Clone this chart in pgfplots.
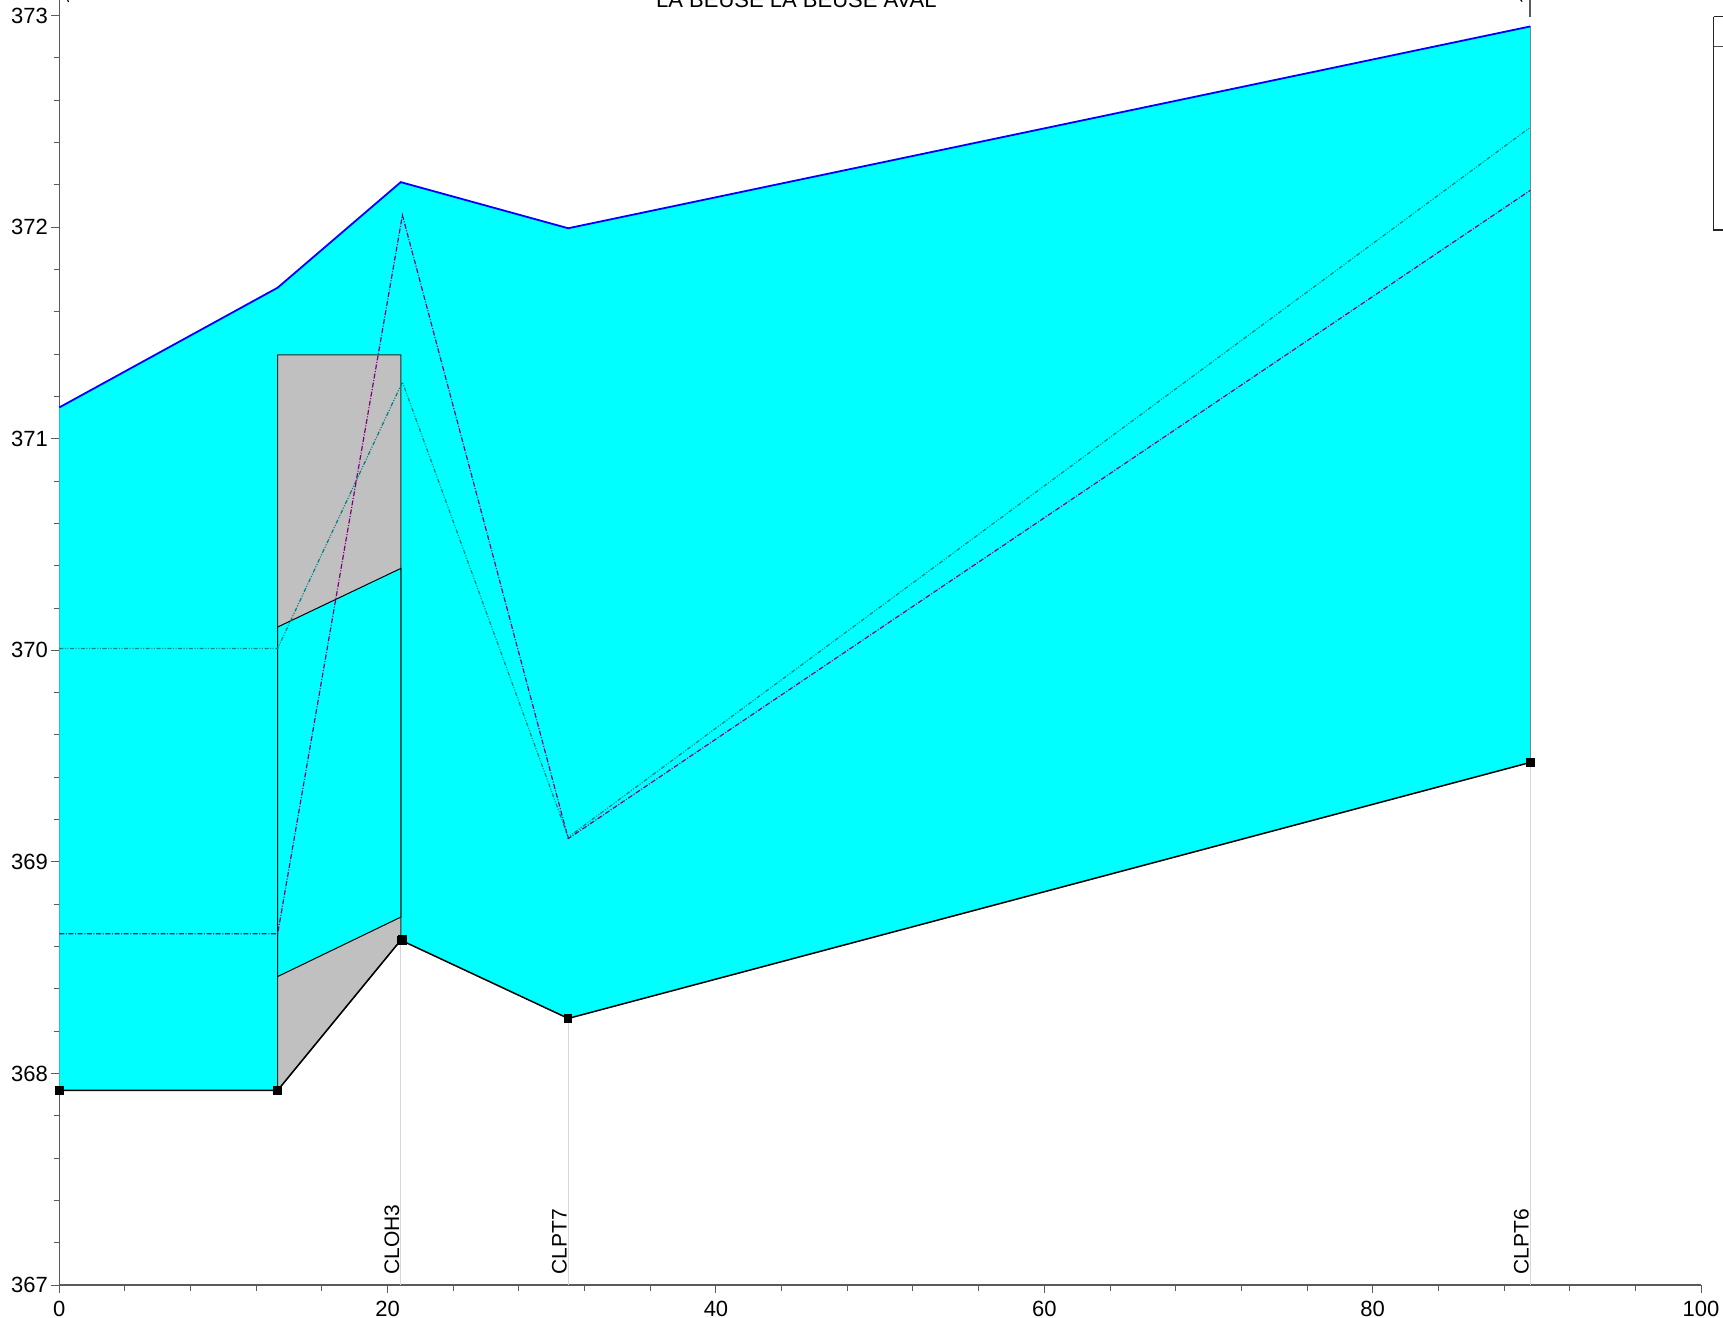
\documentclass[border=0pt]{standalone}
\usepackage{fontspec}
\setmainfont{Liberation Sans}
\usepackage{pgfplots}
\pgfplotsset{compat=1.18}
\definecolor{aqua}{RGB}{0,255,255}
\definecolor{struct}{RGB}{192,192,192}
\definecolor{egl}{RGB}{0,128,128}
\definecolor{wsl}{RGB}{128,0,128}
\definecolor{stline}{RGB}{215,215,215}
\definecolor{axgray}{RGB}{90,90,90}
\begin{document}
\begin{tikzpicture}
\begin{axis}[
  scale only axis,
  width=820.85pt, height=642.5pt,
  xmin=0, xmax=100, ymin=367, ymax=373.074,
  axis x line=bottom, axis y line=left,
  axis line style={-},
  x axis line style={draw=axgray, line width=0.9pt},
  y axis line style={draw=axgray, line width=0.6pt},
  tick align=outside,
  xtick={0,20,...,100}, ytick={367,...,373},
  minor x tick num=4, minor y tick num=4,
  major tick length=4pt, minor tick length=2.8pt,
  tick style={draw=axgray, line width=0.5pt},
  /pgf/number format/assume math mode=true,
  xticklabel style={font=\fontsize{11}{12}\selectfont, inner sep=0pt, anchor=north, yshift=-4pt},
  yticklabel style={font=\fontsize{11}{12}\selectfont, inner sep=0pt, anchor=east, xshift=-1.5pt},
  clip=false,
]
% station lines
\addplot[stline, line width=0.6pt] coordinates {(20.8,367) (20.8,368.63)};
\addplot[stline, line width=0.6pt] coordinates {(31,367) (31,368.26)};
\addplot[stline, line width=0.6pt] coordinates {(89.6,367) (89.6,369.47)};
% flow area
\addplot[fill=aqua, draw=none] coordinates {
 (0,367.92) (13.3,367.92) (20.8,368.63) (31,368.26) (89.6,369.47)
 (89.6,372.949) (31,371.995) (20.8,372.213) (13.3,371.714) (0,371.148)} -- cycle;
% structure
\addplot[fill=struct, draw=black!85, line width=0.5pt] coordinates {
 (13.3,367.92) (13.3,371.396) (20.8,371.396) (20.8,368.63)} -- cycle;
% opening
\addplot[fill=aqua, draw=black, line width=0.5pt] coordinates {
 (13.3,368.458) (13.3,370.11) (20.8,370.387) (20.8,368.739)} -- cycle;
% right edge
\addplot[gray, line width=0.6pt] coordinates {(89.6,369.47) (89.6,372.949)};
% top line
\addplot[blue, line width=0.9pt] coordinates {
 (0,371.148) (13.3,371.714) (20.8,372.213) (31,371.995) (89.6,372.949)};
% energy line
\addplot[egl, line width=0.6pt, dash pattern=on 2pt off 0.8pt on 0.5pt off 0.8pt on 0.5pt off 0.8pt] coordinates {
 (0,370.009) (13.3,370.009) (20.9,371.268) (31,369.117) (89.6,372.472)};
% water surface
\addplot[wsl, line width=0.6pt, dash pattern=on 2.5pt off 0.8pt on 0.5pt off 0.8pt] coordinates {
 (0,368.66) (13.3,368.66) (20.9,372.057) (31,369.11) (89.6,372.174)};
% invert
\addplot[black, line width=0.75pt, mark=square*, mark size=1.75pt] coordinates {
 (0,367.92) (13.3,367.92) (20.8,368.63) (31,368.26) (89.6,369.47)};
\addplot[black, only marks, mark=square*, mark size=2.2pt] coordinates {(20.9,368.63)};
% station labels
\node[rotate=90, anchor=south west, inner sep=0.5pt, font=\fontsize{10.5}{12}\selectfont] at ([yshift=4.5pt]axis cs:20.8,367) {CLOH3};
\node[rotate=90, anchor=south west, inner sep=0.5pt, font=\fontsize{10.5}{12}\selectfont] at ([yshift=4.5pt]axis cs:31,367) {CLPT7};
\node[rotate=90, anchor=south west, inner sep=0.5pt, font=\fontsize{10.5}{12}\selectfont] at ([yshift=4.5pt]axis cs:89.6,367) {CLPT6};
% title (cut by page)
\node[anchor=base, inner sep=0pt, font=\fontsize{11}{12}\selectfont] at ([yshift=-3.85pt]axis cs:44.9,373.074) {LA BEUSE LA BEUSE AVAL};
% bracket marks
\draw[axgray, line width=0.9pt] ([yshift=3pt]axis cs:89.6,373.074) -- ([yshift=-8.5pt]axis cs:89.6,373.074);
\draw[black, line width=0.6pt] ([yshift=1.5pt]axis cs:88.9,373.074) -- ([yshift=-0.8pt]axis cs:89.1,373.074);
\draw[black, line width=0.6pt] ([yshift=2pt]axis cs:0.45,373.074) -- ([yshift=-1pt]axis cs:0.55,373.074);
\coordinate (ll) at (rel axis cs:0,0);
\coordinate (ur) at (rel axis cs:1,1);
\end{axis}
% legend box (cut by page)
\draw[black!85, line width=0.6pt] ([xshift=6.3pt,yshift=-8.35pt]ur) -- ([xshift=20pt,yshift=-8.35pt]ur);
\draw[black!85, line width=0.6pt] ([xshift=6.3pt,yshift=-8.35pt]ur) -- ([xshift=6.3pt,yshift=-115pt]ur) -- ([xshift=20pt,yshift=-115pt]ur);
\draw[black!70, line width=0.6pt] ([xshift=6.3pt,yshift=-23.35pt]ur) -- ([xshift=20pt,yshift=-23.35pt]ur);
\pgfresetboundingbox
\path[use as bounding box] ([xshift=-29.65pt,yshift=-16pt]ll) rectangle ([xshift=11pt]ur);
\end{tikzpicture}
\end{document}
